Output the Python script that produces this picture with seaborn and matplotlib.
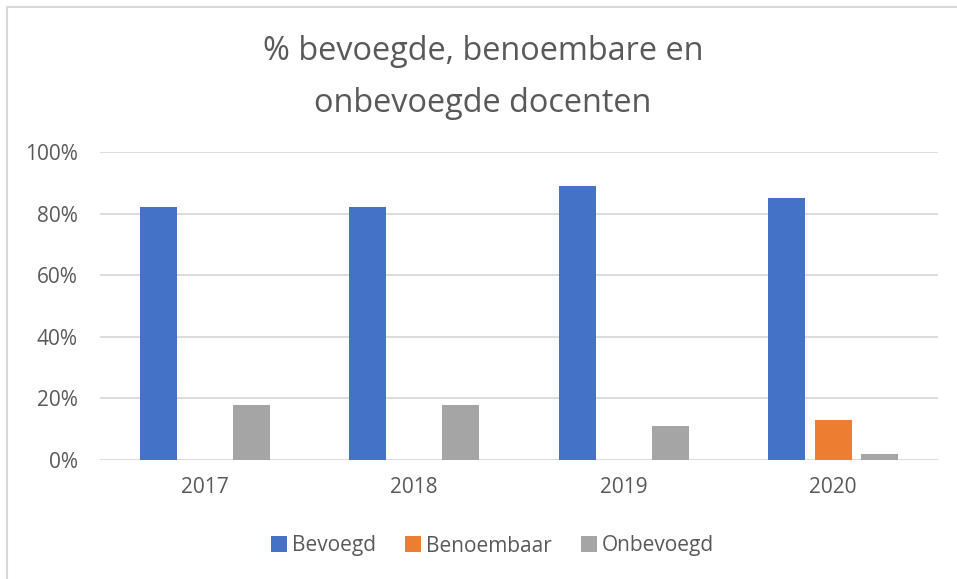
import matplotlib
matplotlib.use("Agg")
import matplotlib.pyplot as plt
import matplotlib.ticker as mtick
from matplotlib.lines import Line2D
import seaborn as sns
import pandas as pd

years = ["2017", "2018", "2019", "2020"]
bevoegd = [82, 82, 89, 85]
benoembaar = [0, 0, 0, 13]
onbevoegd = [18, 18, 11, 2]
series = ["Bevoegd", "Benoembaar", "Onbevoegd"]
colors = ["#4472C4", "#ED7D31", "#A5A5A5"]
title = "% bevoegde, benoembare en\nonbevoegde docenten"

rows = []
for i, y in enumerate(years):
    for name, vals in zip(series, [bevoegd, benoembaar, onbevoegd]):
        rows.append({"jaar": y, "groep": name, "pct": vals[i] / 100})
df = pd.DataFrame(rows)

sns.set_style("white")
plt.rcParams["font.family"] = ["Open Sans", "DejaVu Sans"]
txt = "#595959"
grid = "#D9D9D9"

fig = plt.figure(figsize=(9.57, 5.79), dpi=100)
ax = fig.add_axes([100 / 957, 1 - 460 / 579, 838 / 957, 308 / 579])

sns.barplot(data=df, x="jaar", y="pct", hue="groep", hue_order=series,
            palette=colors, saturation=1, width=0.666, gap=0.2,
            linewidth=0, ax=ax, legend=False)

ax.set_ylim(0, 1.0)
ax.set_xlim(-0.5, 3.5)
ax.yaxis.set_major_locator(mtick.MultipleLocator(0.2))
ax.yaxis.set_major_formatter(mtick.PercentFormatter(1.0, decimals=0))
ax.yaxis.grid(True, color=grid, linewidth=1.3)
ax.set_axisbelow(True)
for s in ax.spines.values():
    s.set_visible(False)
ax.tick_params(axis="both", length=0, colors=txt, labelsize=15)
ax.tick_params(axis="y", pad=16)
ax.tick_params(axis="x", pad=12)
ax.set_xlabel("")
ax.set_ylabel("")

fig.text(0.5045, 1 - 77.5 / 579, title, ha="center", va="center",
         fontsize=23.4, color=txt, linespacing=1.8)

handles = [Line2D([], [], marker="s", linestyle="", markersize=11,
                  markerfacecolor=c, markeredgewidth=0) for c in colors]
fig.legend(handles, series, loc="center", bbox_to_anchor=(0.512, 1 - 546 / 579),
           ncol=3, frameon=False, fontsize=15, labelcolor=txt,
           handletextpad=0.0, columnspacing=1.2, handlelength=1.2)

# chart border (only top and left edges are visible in the crop)
fig.add_artist(Line2D([7 / 957, 1], [1 - 7 / 579] * 2, color=grid, linewidth=1.5))
fig.add_artist(Line2D([7 / 957] * 2, [0, 1 - 7 / 579], color=grid, linewidth=1.5))

fig.savefig("out.png", dpi=100, facecolor="white")
